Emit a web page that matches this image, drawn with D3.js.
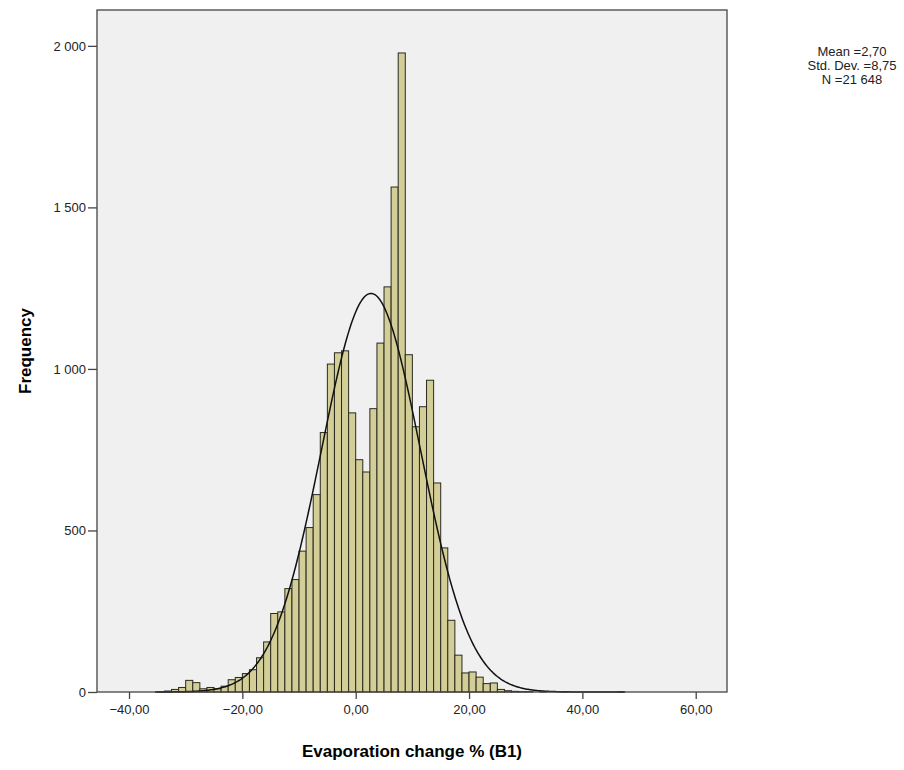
<!DOCTYPE html>
<html>
<head>
<meta charset="utf-8">
<script src="https://cdn.jsdelivr.net/npm/d3@7"></script>
<style>
  body { margin: 0; background: #fff; }
  text { font-family: Arial, "Liberation Sans", sans-serif; }
</style>
</head>
<body>
<div class="histo"></div>
<script>
// histogram counts, bins of 1,25 starting at -35,00
var binWidth = 1.25;
var firstEdge = -35;
var counts = [1, 3, 8, 14, 36, 29, 10, 14, 10, 18, 38, 45, 57, 69, 106, 155, 243, 248, 320, 348,
              436, 509, 611, 803, 1015, 1050, 1056, 864,
              719, 681, 877, 1080, 1254, 1563, 1978, 1044, 821, 883, 965,
              647, 446, 222, 114, 59, 62, 46, 26, 28, 8, 4, 2, 1, 1, 0, 1, 0, 0, 1,
              0, 0, 0, 0, 0, 0, 0, 1];
var xTicks = [-40, -20, 0, 20, 40, 60];
var yTicks = [0, 500, 1000, 1500, 2000];
var mean = 2.70, sd = 8.75, n = 21648;
var statLines = ["Mean =2,70", "Std. Dev. =8,75", "N =21 648"];

function init(){
    var w = 904, h = 770;
    var left = 97, right = 727, top = 10, bottom = 692;

    var loc = d3.formatLocale({decimal: ",", thousands: " ", grouping: [3], currency: ["", ""]});

    var svg = d3.select(".histo").append("svg")
        .attr("width", w)
        .attr("height", h);

    var x = d3.scaleLinear().domain([-45.65, 65.52]).range([left, right]);
    var y = d3.scaleLinear().domain([0, 2111]).range([bottom, top]);

    // plot background
    svg.append("rect")
        .attr("x", left).attr("y", top)
        .attr("width", right - left).attr("height", bottom - top)
        .attr("fill", "#f0f0f0");

    var bins = counts.map(function(c, i){
        return {x0: firstEdge + i * binWidth, x1: firstEdge + (i + 1) * binWidth, c: c};
    }).filter(function(d){ return d.c > 0; });

    svg.selectAll("rect.bar")
        .data(bins)
        .enter()
        .append("rect")
        .attr("class", "bar")
        .attr("x", function(d){ return x(d.x0); })
        .attr("y", function(d){ return y(d.c); })
        .attr("width", function(d){ return x(d.x1) - x(d.x0); })
        .attr("height", function(d){ return y(0) - y(d.c); })
        .attr("fill", "#d3ce97")
        .attr("stroke", "#2a2a1e")
        .attr("stroke-width", 1);

    // normal curve from mean, sd, n
    var pts = d3.range(-35.4, 47.6, 0.2).map(function(v){
        var z = (v - mean) / sd;
        return [v, n * binWidth / (sd * Math.sqrt(2 * Math.PI)) * Math.exp(-0.5 * z * z)];
    });
    svg.append("path")
        .datum(pts)
        .attr("fill", "none")
        .attr("stroke", "#111")
        .attr("stroke-width", 1.5)
        .attr("d", d3.line().x(function(d){ return x(d[0]); }).y(function(d){ return y(d[1]); }));

    // frame
    svg.append("rect")
        .attr("x", left).attr("y", top)
        .attr("width", right - left).attr("height", bottom - top)
        .attr("fill", "none")
        .attr("stroke", "#444")
        .attr("stroke-width", 1.3);

    var xAxis = svg.append("g")
        .attr("transform", "translate(0," + bottom + ")")
        .call(d3.axisBottom(x).tickValues(xTicks).tickSize(7).tickPadding(6)
            .tickFormat(loc.format(".2f")));
    var yAxis = svg.append("g")
        .attr("transform", "translate(" + left + ",0)")
        .call(d3.axisLeft(y).tickValues(yTicks).tickSize(9).tickPadding(2)
            .tickFormat(loc.format(",d")));
    [xAxis, yAxis].forEach(function(g){
        g.select(".domain").remove();
        g.selectAll("line").attr("stroke", "#444").attr("stroke-width", 1.3);
        g.selectAll("text").attr("fill", "#222").style("font-size", "13px");
    });

    svg.append("text")
        .attr("x", 412).attr("y", 757)
        .attr("text-anchor", "middle")
        .style("font-size", "17px").style("font-weight", "bold")
        .text("Evaporation change % (B1)");

    svg.append("text")
        .attr("transform", "translate(31,351) rotate(-90)")
        .attr("text-anchor", "middle")
        .style("font-size", "17px").style("font-weight", "bold")
        .text("Frequency");

    svg.selectAll("text.stat")
        .data(statLines)
        .enter()
        .append("text")
        .attr("class", "stat")
        .attr("x", 852)
        .attr("y", function(d, i){ return 56 + i * 14; })
        .attr("text-anchor", "middle")
        .attr("fill", "#222")
        .style("font-size", "13px")
        .text(function(d){ return d; });
}
window.onload = init;
</script>
</body>
</html>
